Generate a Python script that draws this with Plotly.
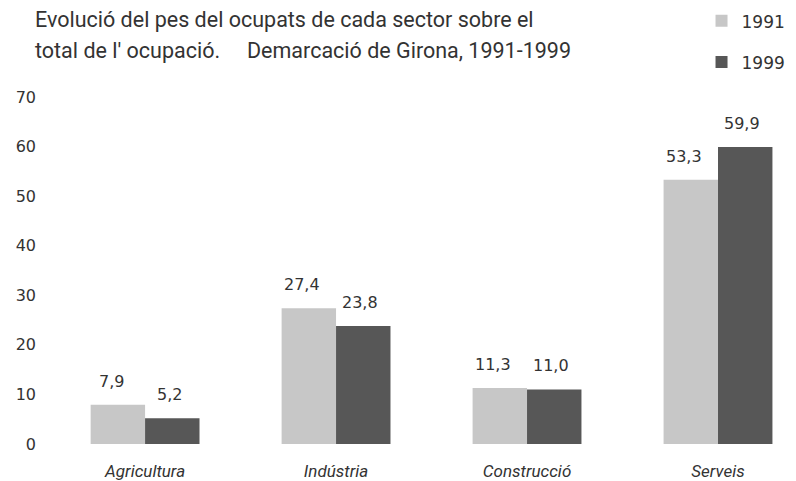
import plotly.graph_objects as go

sectors = ["Agricultura", "Indústria", "Construcció", "Serveis"]
vals_1991 = [7.9, 27.4, 11.3, 53.3]
vals_1999 = [5.2, 23.8, 11.0, 59.9]
y_ticks = [0, 10, 20, 30, 40, 50, 60, 70]

light = "#c7c7c7"
dark = "#575757"
txt = "#333333"
font_title = "Roboto, Arial"
font_num = "DejaVu Sans, Verdana"

fig = go.Figure()
fig.add_trace(go.Bar(x=sectors, y=vals_1991, name="1991", marker_color=light,
                     marker_line_width=0, legendgroup="a"))
fig.add_trace(go.Bar(x=sectors, y=vals_1999, name="1999", marker_color=dark,
                     marker_line_width=0, legendgroup="b"))

# value labels above each bar
for i, s in enumerate(sectors):
    for v, shift in ((vals_1991[i], -34), (vals_1999[i], 24)):
        fig.add_annotation(x=s, y=v, text=f"{v:.1f}".replace(".", ","),
                           xshift=shift, yshift=12, yanchor="bottom",
                           showarrow=False, font=dict(size=16, color=txt, family=font_num))

# title, two lines
fig.add_annotation(xref="paper", yref="paper", x=-0.0162, y=1.222, xanchor="left", yanchor="middle",
                   text="Evolució del pes del ocupats de cada sector sobre el",
                   showarrow=False, font=dict(size=21.5, color=txt, family=font_title))
fig.add_annotation(xref="paper", yref="paper", x=-0.0162, y=1.135, xanchor="left", yanchor="middle",
                   text="total de l' ocupació.",
                   showarrow=False, font=dict(size=21.5, color=txt, family=font_title))
fig.add_annotation(xref="paper", yref="paper", x=0.2699, y=1.135, xanchor="left", yanchor="middle",
                   text="Demarcació de Girona, 1991-1999",
                   showarrow=False, font=dict(size=21.5, color=txt, family=font_title))

# page body adds 8px, so the figure is 8px smaller
fig.update_layout(
    width=788, height=473,
    margin=dict(l=37, r=10, t=89, b=37, autoexpand=False),
    plot_bgcolor="white", paper_bgcolor="white",
    barmode="group", bargap=0.43, bargroupgap=0,
    font=dict(family=font_num, color=txt),
    legend=dict(x=0.886, y=1.27, xanchor="left", yanchor="top",
                font=dict(size=17, color=txt, family=font_num), tracegroupgap=16,
                traceorder="grouped", bgcolor="rgba(0,0,0,0)", itemwidth=30),
    xaxis=dict(range=[-0.524, 3.356], showline=False, showgrid=False,
               tickfont=dict(size=17, color=txt, style="italic", family=font_title),
               ticklabelstandoff=15),
    yaxis=dict(range=[0, 70], tickvals=y_ticks, showgrid=False, showline=False,
               zeroline=False, tickfont=dict(size=16, color=txt),
               ticklabelstandoff=8),
)

fig.write_html("out.html")
